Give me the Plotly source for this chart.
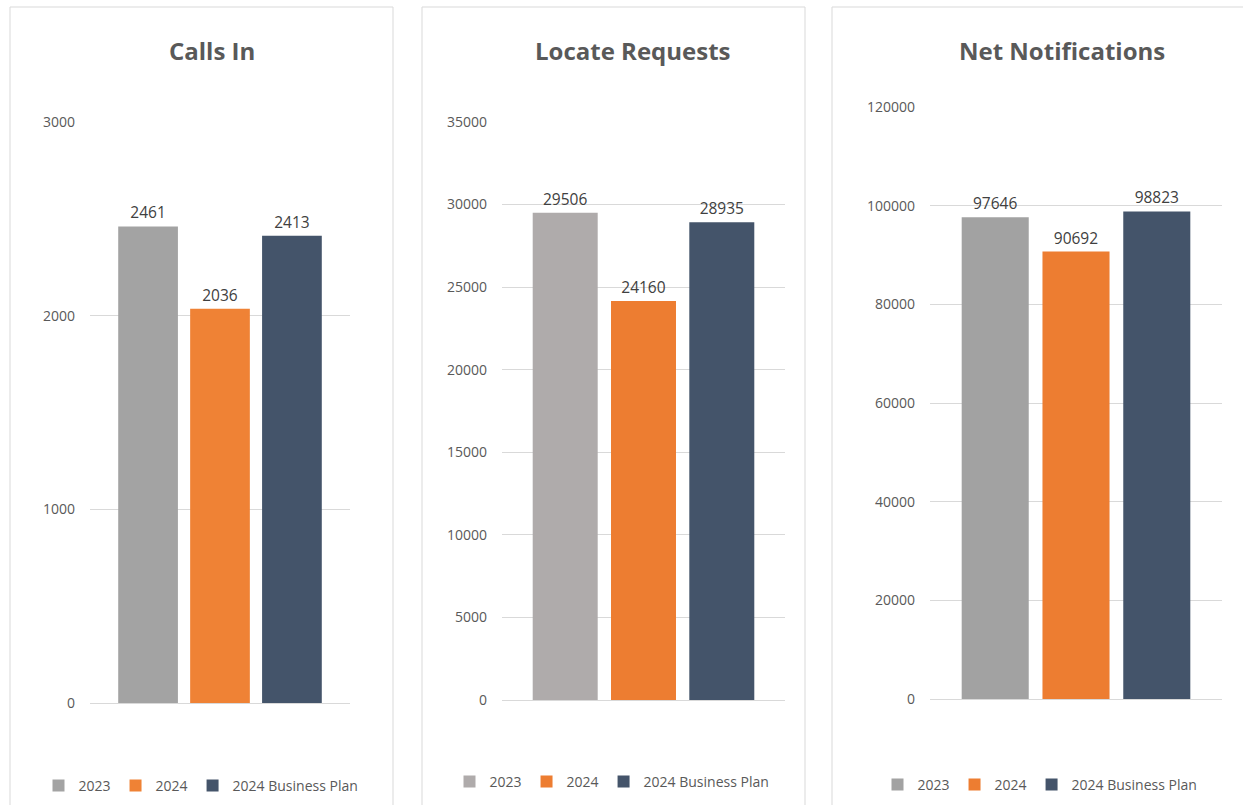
import plotly.graph_objects as go

W, H = 1243, 805

series = ["2023", "2024", "2024 Business Plan"]
colors_p = [["#A3A3A3", "#EF8235", "#44546A"],
            ["#AFABAB", "#ED7D31", "#44546A"],
            ["#A2A2A2", "#ED7D31", "#44546A"]]

titles = ["Calls In", "Locate Requests", "Net Notifications"]
calls_in = [2461, 2036, 2413]
locate_requests = [29506, 24160, 28935]
net_notifications = [97646, 90692, 98823]
panel_values = [calls_in, locate_requests, net_notifications]

y_ranges = [[0, 3000], [0, 35000], [0, 120000]]
y_dticks = [1000, 5000, 20000]

# layout in pixels
x_doms = [(90, 350), (502, 785), (930, 1222)]
y_doms = [(703, 122), (700, 122), (699, 107)]
borders = [(10, 7, 393, 810), (422, 7, 805, 810), (832, 7, 1250, 810)]
title_pos = [(212, 50), (633, 50), (1062, 50)]
legend_pos = [(201, 786), (612, 782), (1040, 785)]

def px(x):
    return x / W

def py(y):
    return 1 - y / H

fig = go.Figure()
layout = dict(
    width=W, height=H,
    margin=dict(l=0, r=0, t=0, b=0, pad=0, autoexpand=False),
    paper_bgcolor="white", plot_bgcolor="white",
    barmode="group", bargap=0.17, bargroupgap=0.17,
    font=dict(family="Open Sans, Noto Sans, sans-serif", color="#595959"),
    shapes=[], annotations=[],
)

for i in range(3):
    xa = "x" if i == 0 else f"x{i+1}"
    ya = "y" if i == 0 else f"y{i+1}"
    lg = "legend" if i == 0 else f"legend{i+1}"
    for j, s in enumerate(series):
        fig.add_trace(go.Bar(
            x=[titles[i]], y=[panel_values[i][j]], name=s,
            marker=dict(color=colors_p[i][j], line=dict(width=0)),
            text=[str(panel_values[i][j])], textposition="outside",
            textfont=dict(size=15.5, color="#404040"),
            cliponaxis=False,
            xaxis=xa, yaxis=ya, legend=lg, showlegend=True,
        ))
    xk = "xaxis" if i == 0 else f"xaxis{i+1}"
    yk = "yaxis" if i == 0 else f"yaxis{i+1}"
    layout[xk] = dict(domain=[px(x_doms[i][0]), px(x_doms[i][1])], anchor=ya,
                      showticklabels=False, showgrid=False, zeroline=False,
                      showline=False, ticks="", fixedrange=True)
    layout[yk] = dict(domain=[py(y_doms[i][0]), py(y_doms[i][1])], anchor=xa,
                      range=y_ranges[i], dtick=y_dticks[i], tick0=0,
                      tickformat="d",
                      showgrid=True, gridcolor="#D9D9D9", gridwidth=1,
                      zeroline=True, zerolinecolor="#D9D9D9", zerolinewidth=1,
                      showline=False, ticks="", ticklabelstandoff=14,
                      tickfont=dict(size=14, color="#595959"))
    layout[lg] = dict(orientation="h", x=px(legend_pos[i][0]), y=py(legend_pos[i][1]),
                      xanchor="center", yanchor="middle",
                      font=dict(size=14, color="#595959"),
                      bgcolor="rgba(0,0,0,0)", itemwidth=30, tracegroupgap=0)
    b = borders[i]
    layout["shapes"].append(dict(type="rect", xref="paper", yref="paper",
                                 x0=px(b[0]), x1=px(b[2]), y0=py(b[3]), y1=py(b[1]),
                                 line=dict(color="#D9D9D9", width=1), layer="below"))
    layout["annotations"].append(dict(text="<b>" + titles[i] + "</b>", xref="paper", yref="paper",
                                      x=px(title_pos[i][0]), y=py(title_pos[i][1]),
                                      xanchor="center", yanchor="middle", showarrow=False,
                                      font=dict(size=24, color="#595959")))

fig.update_layout(**layout)
fig.write_html("out.html", config={"displayModeBar": False},
               post_script="document.body.style.margin='0';")
